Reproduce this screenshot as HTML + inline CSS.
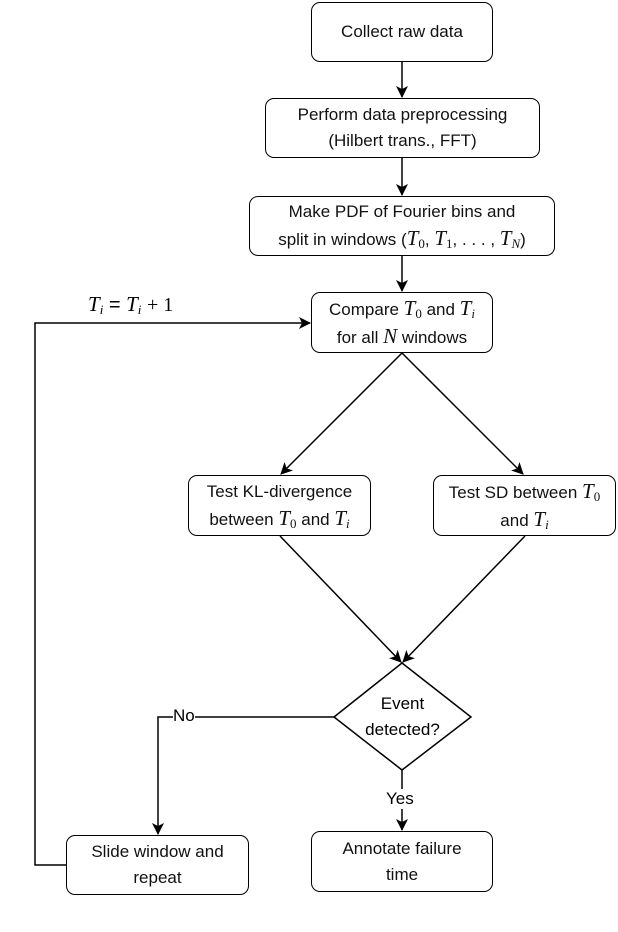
<!DOCTYPE html>
<html><head><meta charset="utf-8"><style>
html,body{margin:0;padding:0;background:#fff;}
body{width:618px;height:932px;position:relative;overflow:hidden;font-family:"Liberation Sans",sans-serif;}
.b{position:absolute;border:1.5px solid #000;border-radius:9px;box-sizing:border-box;display:flex;align-items:center;justify-content:center;text-align:center;font-size:17px;line-height:26px;color:#111;background:#fff;white-space:nowrap;}
i{font-family:"Liberation Serif",serif;font-size:21px;}
sub{font-size:13px;vertical-align:-3px;font-family:"Liberation Serif",serif;font-style:normal;line-height:0;}
.l{position:absolute;font-size:17px;background:#fff;}
</style></head><body>
<svg width="618" height="932" style="position:absolute;left:0;top:0">
<defs><marker id="a" markerWidth="12" markerHeight="12" refX="11" refY="6" orient="auto" markerUnits="userSpaceOnUse"><path d="M0,0 L12,6 L0,12 L3,6 Z" fill="#000"/></marker></defs>
<g stroke="#000" stroke-width="1.5" fill="none">
<line x1="402" y1="62" x2="402" y2="97" marker-end="url(#a)"/>
<line x1="402" y1="158" x2="402" y2="195" marker-end="url(#a)"/>
<line x1="402" y1="256" x2="402" y2="291" marker-end="url(#a)"/>
<line x1="402" y1="353" x2="281" y2="474" marker-end="url(#a)"/>
<line x1="402" y1="353" x2="523" y2="474" marker-end="url(#a)"/>
<line x1="280" y1="536" x2="401" y2="662" marker-end="url(#a)"/>
<line x1="525" y1="536" x2="403" y2="662" marker-end="url(#a)"/>
<polygon points="402,663 471,717 402,770 334,717" fill="#fff"/>
<polyline points="334,717 158,717 158,834" marker-end="url(#a)"/>
<polyline points="402,770 402,830" marker-end="url(#a)"/>
<polyline points="66,865 35,865 35,323 310,323" marker-end="url(#a)"/>
</g>
</svg>
<div class="b" style="left:311px;top:2px;width:182px;height:60px;"><div>Collect raw data</div></div>
<div class="b" style="left:265px;top:98px;width:275px;height:60px;"><div>Perform data preprocessing<br>(Hilbert trans., FFT)</div></div>
<div class="b" style="left:249px;top:196px;width:306px;height:60px;"><div>Make PDF of Fourier bins and<br>split in windows (<i>T</i><sub>0</sub>, <i>T</i><sub>1</sub>, . . . , <i>T</i><sub><i style="font-size:13px">N</i></sub>)</div></div>
<div class="b" style="left:311px;top:292px;width:182px;height:61px;"><div>Compare <i>T</i><sub>0</sub> and <i>T</i><sub><i style="font-size:13px">i</i></sub><br>for all <i>N</i> windows</div></div>
<div class="b" style="left:188px;top:475px;width:183px;height:61px;"><div>Test KL-divergence<br>between <i>T</i><sub>0</sub> and <i>T</i><sub><i style="font-size:13px">i</i></sub></div></div>
<div class="b" style="left:433px;top:475px;width:183px;height:61px;"><div>Test SD between <i>T</i><sub>0</sub><br>and <i>T</i><sub><i style="font-size:13px">i</i></sub></div></div>
<div style="position:absolute;left:334px;top:691px;width:137px;text-align:center;font-size:17px;line-height:26px;">Event<br>detected?</div>
<div class="b" style="left:66px;top:835px;width:183px;height:60px;"><div>Slide window and<br>repeat</div></div>
<div class="b" style="left:311px;top:831px;width:182px;height:61px;"><div>Annotate failure<br>time</div></div>
<div class="l" style="left:173px;top:706px;">No</div>
<div class="l" style="left:386px;top:789px;">Yes</div>
<div style="position:absolute;left:88px;top:292px;font-size:20px;"><i>T</i><sub><i style="font-size:13px">i</i></sub> = <i>T</i><sub><i style="font-size:13px">i</i></sub> <span style="font-family:'Liberation Serif',serif">+ 1</span></div>
</body></html>
